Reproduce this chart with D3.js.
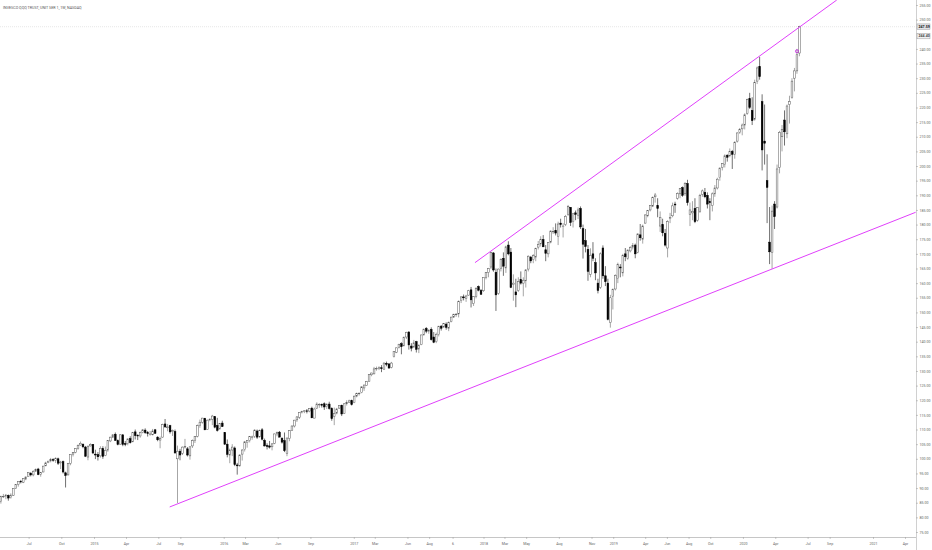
<!DOCTYPE html>
<html><head><meta charset="utf-8">
<script src="https://cdn.jsdelivr.net/npm/d3@7"></script>
<style>html,body{margin:0;padding:0;background:#fff;}svg{display:block;}</style>
</head><body>
<svg id="c" width="932" height="550"></svg>
<script>
const title = "INVESCO QQQ TRUST, UNIT SER 1, 1W, NASDAQ";

// weekly OHLC  [open, high, low, close]
const ohlc2014 = [
 [85.5,87.4,84.7,87.1],[87.1,88.0,86.6,87.2],[87.3,88.0,86.2,87.6],
 [87.5,87.8,85.7,86.6],[86.7,88.2,86.4,87.6],[87.5,89.9,87.3,89.8],[89.9,91.4,89.8,91.3],
 [91.2,92.3,90.5,92.3],[92.3,92.8,91.6,92.1],[92.0,93.3,91.7,93.2],[93.1,93.9,92.7,93.8],[93.9,95.3,93.8,95.3],
 [95.1,95.4,94.0,94.5],[94.5,96.1,94.0,95.7],[95.8,96.7,95.5,96.4],[96.5,96.9,94.4,94.6],
 [94.7,95.5,93.9,95.4],[95.5,97.6,95.4,97.5],[97.6,99.0,97.5,98.6],[98.7,99.3,98.5,99.2],
 [99.3,100.3,98.8,99.8],[99.7,100.2,99.0,99.6],[99.5,100.5,98.6,100.2],[100.0,100.4,97.9,98.5],[98.6,99.3,96.5,98.9],
 [99.0,99.4,95.0,95.5],[95.2,95.6,90.2,94.3],[94.5,98.6,94.3,98.4],[98.4,101.5,97.8,101.5],
 [101.6,102.3,100.8,102.1],[102.2,103.6,101.9,103.5],[103.5,104.9,103.1,104.6],[104.7,105.9,104.5,105.3],
 [105.0,105.2,103.6,104.1],[104.0,104.4,100.6,100.9],[100.6,104.6,99.5,104.3],[104.4,105.3,104.2,104.9],[104.9,105.0,101.6,102.0]
];
const ohlc2015 = [
 [101.6,103.1,99.9,101.3],[101.4,102.3,99.4,100.7],[101.0,104.3,100.4,103.6],[103.5,104.3,100.0,100.8],
 [101.1,104.2,100.9,102.9],[103.0,106.3,102.4,106.2],[106.1,107.5,105.7,107.4],[107.4,108.4,107.1,108.2],
 [108.4,109.0,106.1,106.3],[106.2,106.6,104.6,104.9],[105.0,108.4,104.8,108.2],[108.2,108.3,104.3,104.9],[105.2,106.1,104.3,104.9],
 [105.2,106.9,104.6,106.8],[106.9,107.7,105.2,105.5],[105.8,109.2,105.7,109.0],[109.2,110.0,106.6,107.9],
 [108.0,108.4,106.4,107.9],[107.8,109.3,107.2,109.0],[109.0,110.2,108.7,109.9],[109.8,110.4,108.5,108.9],
 [108.9,109.5,107.6,108.6],[108.5,109.5,107.9,108.5],[108.2,110.2,108.0,109.5],[109.9,110.2,108.6,108.7],[107.4,107.7,106.0,106.5],
 [106.4,107.6,103.6,106.9],[107.4,112.0,107.2,111.7],[111.9,113.6,110.6,110.9],[110.6,111.9,109.4,110.9],
 [111.3,111.6,108.6,109.2],[109.3,110.0,107.8,109.6],[109.3,110.0,101.8,102.0],[100.0,104.5,84.9,102.6],[102.6,103.4,99.5,101.3],
 [101.9,104.2,101.3,104.0],[104.2,106.8,103.5,104.2],[103.4,104.0,100.8,101.3],[101.0,104.2,99.7,104.1],
 [104.4,106.6,103.7,106.2],[106.2,107.8,105.4,107.6],[107.7,111.7,107.3,111.3],[111.3,113.4,110.6,112.5],
 [112.5,114.0,112.0,113.9],[113.8,114.0,109.8,109.9],[110.0,113.4,109.9,113.2],[113.3,113.9,112.8,113.5],[113.5,115.0,111.5,114.6],
 [114.4,114.6,110.4,110.8],[111.4,114.0,109.3,109.7],[110.2,112.2,110.0,112.1],[112.2,113.0,110.9,111.0]
];
const ohlc2016 = [
 [109.0,109.1,104.7,105.0],[105.0,106.6,100.5,101.5],[101.3,103.5,98.5,103.0],[103.0,105.0,100.9,104.0],
 [103.7,104.2,97.5,98.0],[97.9,98.6,94.6,97.6],[97.6,101.5,97.3,101.3],[101.6,103.3,99.4,103.0],[103.1,106.1,102.5,105.8],
 [105.5,106.4,103.8,106.3],[106.2,107.8,105.6,107.6],[107.5,107.9,106.5,107.5],[107.6,110.1,107.1,109.8],
 [109.5,110.0,106.8,107.4],[107.5,110.0,107.2,109.7],[109.9,110.5,106.3,106.7],[106.3,106.9,104.2,104.4],
 [104.5,105.3,103.2,104.2],[104.4,106.1,103.5,104.0],[104.1,105.4,102.9,105.1],[105.3,108.6,105.0,108.5],[108.5,109.3,107.7,109.0],
 [109.1,109.5,107.4,107.4],[107.0,107.4,105.2,105.7],[106.2,109.0,102.3,102.8],[101.9,107.2,100.9,107.1],
 [106.9,109.8,106.0,109.6],[109.7,111.4,109.6,111.2],[111.2,113.3,110.7,113.2],[113.3,114.6,112.6,114.3],
 [114.2,115.9,113.6,115.8],[115.8,116.4,115.5,116.1],[116.1,116.6,115.6,116.4],[116.4,117.0,115.5,116.3],[116.3,117.3,115.9,117.2],
 [117.3,117.8,113.9,114.0],[113.9,117.5,113.8,117.0],[117.2,119.3,117.0,118.7],[118.5,119.0,117.4,118.6],
 [118.6,118.9,117.5,118.3],[118.8,119.3,116.7,117.7],[117.8,119.0,117.0,118.6],[118.7,119.5,116.8,117.2],[117.2,117.6,113.0,113.7],
 [114.5,117.5,111.5,115.5],[115.6,117.4,115.2,117.0],[117.3,118.3,117.1,118.2],[118.3,118.5,114.6,115.3],
 [115.5,119.0,115.3,118.8],[118.8,120.0,118.2,119.2],[119.3,120.2,119.1,119.8],[119.9,120.2,118.2,118.5]
];
const ohlc2017 = [
 [119.2,121.6,119.0,121.4],[121.4,122.6,121.0,122.3],[122.3,122.7,121.6,122.4],[122.6,124.7,122.4,124.6],[124.2,125.3,123.2,125.2],
 [125.0,126.6,124.9,126.4],[126.5,128.8,126.4,128.8],[128.7,129.4,128.2,129.3],[129.0,131.4,128.9,130.7],
 [130.9,131.5,130.1,130.9],[130.8,131.6,130.3,131.1],[131.1,132.0,129.6,130.8],[130.6,132.9,130.5,132.7],
 [132.6,133.2,131.6,132.3],[132.4,132.7,130.8,131.0],[131.2,133.1,130.9,132.7],[134.9,136.6,134.6,136.6],
 [136.4,138.0,136.1,137.9],[138.0,139.3,137.7,139.1],[139.3,139.8,135.7,138.3],[138.6,141.8,138.4,141.5],[141.6,143.4,140.9,143.2],
 [143.3,143.6,137.3,138.9],[138.5,139.5,136.7,137.8],[138.2,140.6,137.9,139.6],[140.0,140.3,136.3,137.4],
 [137.5,139.1,136.1,138.8],[139.0,142.4,138.8,142.3],[142.3,144.4,142.2,144.3],[144.5,145.0,142.9,143.6],[143.6,144.3,142.7,143.9],
 [144.2,144.9,140.4,140.7],[141.6,143.3,139.5,139.8],[140.0,143.1,139.5,142.5],[142.4,145.4,141.8,145.3],
 [145.3,145.7,143.8,144.6],[145.0,146.4,144.8,146.2],[146.0,146.6,144.1,144.9],[144.6,146.9,143.6,146.6],
 [146.9,148.5,146.6,148.4],[148.4,149.5,148.1,149.4],[149.2,149.8,148.5,149.4],[149.5,154.1,148.3,153.7],[154.0,155.6,153.2,155.3],
 [155.3,156.1,154.1,155.0],[154.8,156.0,153.6,155.6],[155.9,157.7,155.7,157.4],[157.7,158.7,151.7,154.3],
 [153.0,155.6,152.2,155.4],[155.5,158.6,154.8,158.1],[158.8,159.2,157.2,157.6],[157.5,158.0,156.0,156.2]
];
const ohlc2018 = [
 [157.4,162.0,157.0,162.0],[162.0,163.7,161.3,163.6],[163.6,165.2,162.0,165.0],[165.5,170.7,164.8,170.4],[170.3,170.6,163.9,164.5],
 [163.7,165.0,150.5,156.0],[156.5,165.0,156.0,164.8],[165.0,168.5,164.0,168.0],[168.5,170.5,162.5,165.8],
 [165.2,172.8,163.5,172.4],[173.0,174.3,169.5,170.0],[170.6,172.0,158.3,158.5],[159.5,163.0,154.0,160.0],
 [157.0,161.5,151.8,156.0],[157.5,162.0,157.0,160.5],[161.2,164.0,159.5,160.0],[160.0,162.0,155.5,161.0],[160.8,164.8,158.5,164.5],
 [164.8,169.5,164.0,169.2],[168.9,169.3,166.8,167.6],[168.0,169.9,166.8,169.4],[168.9,172.1,167.5,171.9],
 [172.3,174.4,171.5,173.2],[173.4,176.0,172.5,175.0],[174.9,176.4,172.4,172.4],[171.4,173.0,167.5,170.2],
 [170.0,174.0,168.8,173.8],[174.0,178.0,173.6,177.8],[177.6,179.1,176.8,177.7],[178.0,180.4,176.3,177.1],[175.9,181.0,173.0,180.2],
 [180.5,182.0,179.0,180.0],[179.5,180.5,175.6,179.5],[180.0,183.3,179.5,182.8],[183.5,186.7,183.0,186.1],
 [185.9,186.0,179.5,180.7],[181.0,184.0,179.0,183.7],[184.0,184.8,181.5,183.5],[183.2,185.8,181.9,185.0],
 [185.5,186.2,178.5,179.2],[178.6,180.0,168.4,173.3],[174.5,178.5,170.5,172.5],[171.5,173.0,160.8,164.0],[163.0,171.9,162.0,169.5],
 [170.0,174.0,167.5,168.5],[167.0,168.5,161.0,163.5],[160.0,161.5,156.5,157.5],[158.5,170.5,158.0,170.0],
 [172.0,172.9,161.5,162.5],[162.5,165.8,159.0,160.5],[160.0,161.5,147.3,147.6],[146.5,156.0,144.8,155.0],[155.5,158.2,151.0,157.8]
];
const ohlc2019 = [
 [158.0,163.0,157.5,162.6],[161.5,167.0,160.0,166.4],[165.5,166.5,162.0,165.2],[163.5,170.0,162.3,169.5],
 [170.0,172.0,167.5,169.0],[168.5,171.5,168.0,171.3],[171.0,172.6,170.5,172.2],[172.3,173.7,171.5,172.8],
 [173.0,173.5,168.5,170.0],[170.5,177.0,170.2,176.8],[176.5,180.2,174.5,175.5],[175.0,180.0,173.5,179.5],
 [180.5,183.5,180.3,183.3],[183.0,185.0,182.5,184.8],[185.0,186.7,184.5,186.6],[186.3,189.6,186.0,189.3],[189.5,190.8,187.5,190.1],
 [186.5,189.0,182.5,185.5],[179.5,184.5,177.5,182.5],[180.0,182.0,176.0,177.2],[177.0,178.5,172.5,173.0],
 [172.0,181.5,168.8,181.0],[182.0,184.0,180.5,182.5],[183.0,187.5,182.5,186.4],[187.0,187.8,184.0,186.7],
 [189.0,191.0,188.5,190.6],[190.5,192.5,189.0,192.3],[192.6,193.0,189.5,190.0],[190.5,194.5,189.8,194.0],[194.0,195.3,186.5,187.5],
 [183.5,187.5,179.5,185.0],[184.0,188.0,181.5,184.5],[185.5,189.0,180.5,181.0],[181.5,186.0,181.0,185.8],
 [184.5,190.5,184.0,190.0],[190.3,192.0,189.5,191.5],[191.0,192.5,189.0,189.5],[190.0,191.0,185.5,187.0],[187.8,189.0,181.5,187.5],
 [186.5,191.0,184.5,190.5],[190.5,193.5,189.5,192.5],[192.5,196.0,192.0,195.5],[196.0,199.5,195.0,199.3],
 [199.5,201.0,198.5,200.8],[200.5,204.0,199.5,203.5],[203.7,204.0,201.5,203.0],[203.5,206.0,203.0,205.0],
 [205.0,205.5,199.0,204.0],[204.0,208.5,202.5,208.0],[208.5,211.5,208.0,211.3],[211.5,213.0,211.0,212.5],[212.7,214.5,210.5,214.0]
];
const ohlc2020 = [
 [214.0,218.0,212.5,217.5],[218.0,223.0,217.5,222.7],[223.0,225.0,219.5,220.0],[219.0,223.5,214.0,215.5],
 [216.0,229.5,215.5,228.5],[229.0,234.0,228.0,233.5],[234.0,237.3,229.5,230.5],[222.0,224.5,198.5,205.5],
 [208.5,221.0,200.5,207.8],[195.0,204.0,180.5,192.7],[174.0,186.0,166.5,170.7],[170.5,186.5,164.9,184.6],[187.0,188.0,178.5,182.7],
 [186.0,200.5,185.5,199.0],[199.5,212.0,197.5,211.5],[210.0,214.0,205.0,212.5],[215.7,219.0,207.0,211.7],
 [211.0,221.0,209.5,220.5],[221.0,224.0,214.5,222.0],[223.5,230.0,223.0,229.0],[230.0,233.5,225.5,232.5],
 [232.5,240.0,231.5,238.0],[238.6,247.9,237.5,247.59]
];
const yearBlocks = [
 ["2014-04-14", ohlc2014], ["2015-01-05", ohlc2015], ["2016-01-04", ohlc2016],
 ["2017-01-02", ohlc2017], ["2018-01-01", ohlc2018], ["2019-01-07", ohlc2019], ["2020-01-06", ohlc2020]
];

// trend lines: [date, price]
const upperTrend = [["2017-12-08", 167.0], ["2020-09-21", 256.7]];
const lowerTrend = [["2015-08-02", 83.55], ["2021-05-01", 184.2]];

const lastPrice = 247.59;
const secondLabel = 244.40;
const markerPoint = ["2020-06-01", 239.2];

const yTicks = [75,80,85,90,95,100,105,110,115,120,125,130,135,140,145,150,155,160,165,170,175,180,185,190,195,200,205,210,215,220,225,230,235,240,250,255];
const xTickDates = ["2014-07-01","2014-10-01","2015-01-01","2015-04-01","2015-07-01","2015-09-01","2016-01-01","2016-03-01","2016-06-01","2016-09-01","2017-01-01","2017-03-01","2017-06-01","2017-08-01","2017-10-06","2018-01-01","2018-03-01","2018-05-01","2018-08-01","2018-11-01","2019-01-01","2019-04-01","2019-06-01","2019-08-01","2019-10-01","2020-01-01","2020-04-01","2020-07-01","2020-09-01","2021-01-01","2021-04-01"];
const xTickLabels = ["Jul","Oct","2015","Apr","Jul","Sep","2016","Mar","Jun","Sep","2017","Mar","Jun","Aug","6","2018","Mar","May","Aug","Nov","2019","Apr","Jun","Aug","Oct","2020","Apr","Jul","Sep","2021","Apr"];

const parse = d3.timeParse("%Y-%m-%d");
const W = 932, H = 550, plotR = 916, plotB = 537;
const x = d3.scaleTime().domain([parse("2015-01-01"), parse("2021-01-01")]).range([94, 873]);
const y = d3.scaleLinear().domain([75, 255]).range([532, 5]);

const candles = [];
yearBlocks.forEach(([start, rows]) => {
  const s = parse(start);
  rows.forEach((r, i) => candles.push({date: d3.timeWeek.offset(s, i), o: r[0], h: r[1], l: r[2], c: r[3]}));
});

const svg = d3.select("#c");
svg.append("defs").append("clipPath").attr("id", "plot")
  .append("rect").attr("x", 0).attr("y", 0).attr("width", plotR).attr("height", plotB);

const font = "Roboto, 'Liberation Sans', sans-serif";
const fs = 3.6;

// title
svg.append("text").attr("x", 3).attr("y", 9).attr("font-family", font).attr("font-size", 3.7)
  .attr("fill", "#555").text(title);

const plot = svg.append("g").attr("clip-path", "url(#plot)");

// last price line
plot.append("line").attr("x1", 0).attr("x2", plotR).attr("y1", y(lastPrice)).attr("y2", y(lastPrice))
  .attr("stroke", "#d8d8d8").attr("stroke-width", 0.6).attr("stroke-dasharray", "1,1");

const bw = 1.7;
const cg = plot.append("g");
cg.selectAll("line.wick").data(candles).join("line").attr("class", "wick")
  .attr("x1", d => x(d.date)).attr("x2", d => x(d.date))
  .attr("y1", d => y(d.h)).attr("y2", d => y(d.l))
  .attr("stroke", d => d.c >= d.o ? "#6a6a6a" : "#111").attr("stroke-width", 0.6);
cg.selectAll("rect.body").data(candles).join("rect").attr("class", "body")
  .attr("x", d => x(d.date) - bw / 2).attr("width", bw)
  .attr("y", d => y(Math.max(d.o, d.c)))
  .attr("height", d => Math.max(0.6, Math.abs(y(d.o) - y(d.c))))
  .attr("fill", d => d.c >= d.o ? "#ffffff" : "#000000")
  .attr("stroke", d => d.c >= d.o ? "#5a5a5a" : "#000000").attr("stroke-width", 0.5);

// trend lines
const lineGen = d3.line().x(d => x(parse(d[0]))).y(d => y(d[1]));
[upperTrend, lowerTrend].forEach(t => {
  plot.append("path").attr("d", lineGen(t)).attr("fill", "none")
    .attr("stroke", "#e040fb").attr("stroke-width", 1);
});

// marker
plot.append("circle").attr("cx", x(parse(markerPoint[0]))).attr("cy", y(markerPoint[1]))
  .attr("r", 1.5).attr("fill", "none").attr("stroke", "#c218e0").attr("stroke-width", 0.8);

// axes frame
svg.append("line").attr("x1", plotR + 0.5).attr("x2", plotR + 0.5).attr("y1", 0).attr("y2", H)
  .attr("stroke", "#c4c4c4").attr("stroke-width", 0.8);
svg.append("line").attr("x1", 0).attr("x2", plotR).attr("y1", plotB + 0.5).attr("y2", plotB + 0.5)
  .attr("stroke", "#b8b8b8").attr("stroke-width", 0.8);

// y axis
const ya = svg.append("g").attr("transform", `translate(${plotR},0)`)
  .call(d3.axisRight(y).tickValues(yTicks).tickSize(2).tickPadding(1.5).tickFormat(d3.format(".2f")));
ya.select(".domain").remove();
ya.selectAll("line").attr("stroke", "#999").attr("stroke-width", 0.5);
ya.selectAll("text").attr("font-family", font).attr("font-size", fs).attr("fill", "#666");

// x axis
const xa = svg.append("g").attr("transform", `translate(0,${plotB})`)
  .call(d3.axisBottom(x).tickValues(xTickDates.map(parse)).tickSize(2).tickPadding(3.5)
    .tickFormat((d, i) => xTickLabels[i]));
xa.select(".domain").remove();
xa.selectAll("line").attr("stroke", "#999").attr("stroke-width", 0.5);
xa.selectAll("text").attr("font-family", font).attr("font-size", fs).attr("fill", "#666");

// price labels
[[secondLabel, "#f0f0f3", "#444"], [lastPrice, "#e2e3e8", "#111"]].forEach(([p, bg, fg]) => {
  const g = svg.append("g").attr("transform", `translate(${plotR + 1},${y(p)})`);
  g.append("rect").attr("x", 0).attr("y", -2.8).attr("width", 13).attr("height", 5.6)
    .attr("fill", bg).attr("stroke", "#8c8c8c").attr("stroke-width", 0.4);
  g.append("text").attr("x", 1.5).attr("y", 1.3).attr("font-family", font).attr("font-size", fs)
    .attr("font-weight", "bold").attr("fill", fg).text(p.toFixed(2));
});
</script>
</body></html>
